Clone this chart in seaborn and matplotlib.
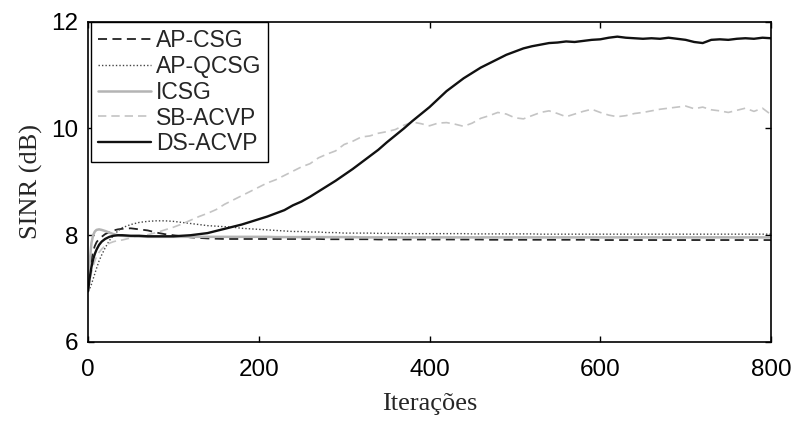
import matplotlib
matplotlib.use("Agg")
import matplotlib.pyplot as plt
import seaborn as sns
import pandas as pd

iters = [0, 2, 4, 6, 8, 10, 13, 16, 20, 25, 30, 35, 40] + list(range(50, 801, 10))

ap_csg = [6.95, 7.30, 7.55, 7.70, 7.80, 7.87, 7.93, 7.97, 8.02, 8.06, 8.09, 8.11, 8.12,
          8.13, 8.11, 8.09, 8.05, 8.02, 8.00, 7.98, 7.96, 7.95, 7.94, 7.935, 7.93, 7.93, 7.93,
          7.93, 7.93, 7.93, 7.93, 7.93, 7.93, 7.93, 7.93, 7.93, 7.925, 7.925, 7.925, 7.925, 7.925,
          7.925, 7.92, 7.92, 7.92, 7.92, 7.92, 7.92, 7.92, 7.92, 7.92, 7.92, 7.92, 7.92, 7.92,
          7.915, 7.915, 7.915, 7.915, 7.915, 7.915, 7.915, 7.915, 7.915, 7.915, 7.915, 7.915, 7.915,
          7.91, 7.91, 7.91, 7.91, 7.91, 7.91, 7.91, 7.91, 7.91, 7.91, 7.91, 7.91, 7.91, 7.91,
          7.91, 7.91, 7.91, 7.91, 7.91, 7.91, 7.91]

ap_qcsg = [6.95, 7.00, 7.08, 7.18, 7.28, 7.38, 7.52, 7.63, 7.76, 7.90, 8.00, 8.08, 8.14,
           8.20, 8.24, 8.26, 8.27, 8.27, 8.26, 8.24, 8.22, 8.20, 8.18, 8.17, 8.16, 8.15, 8.13,
           8.12, 8.11, 8.10, 8.09, 8.08, 8.07, 8.07, 8.06, 8.06, 8.05, 8.05, 8.04, 8.04, 8.04,
           8.04, 8.035, 8.035, 8.035, 8.03, 8.03, 8.03, 8.03, 8.03, 8.03, 8.03, 8.03, 8.025, 8.025,
           8.025, 8.025, 8.025, 8.025, 8.025, 8.025, 8.02, 8.02, 8.02, 8.02, 8.02, 8.02, 8.02,
           8.02, 8.02, 8.02, 8.02, 8.02, 8.02, 8.02, 8.02, 8.02, 8.02, 8.02, 8.02, 8.02, 8.02,
           8.02, 8.02, 8.02, 8.02, 8.02, 8.02, 8.02]

icsg = [6.95, 7.50, 7.85, 8.00, 8.07, 8.10, 8.11, 8.10, 8.08, 8.05, 8.02, 8.00, 7.99,
        7.98, 7.975, 7.97, 7.97, 7.97, 7.97, 7.97, 7.97, 7.97, 7.97, 7.97, 7.97, 7.97, 7.97,
        7.97, 7.97, 7.97, 7.965, 7.965, 7.965, 7.965, 7.965, 7.965, 7.965, 7.965, 7.965, 7.965, 7.96,
        7.96, 7.96, 7.96, 7.96, 7.96, 7.96, 7.96, 7.96, 7.96, 7.96, 7.96, 7.96, 7.96, 7.96,
        7.96, 7.96, 7.96, 7.96, 7.96, 7.96, 7.96, 7.96, 7.96, 7.96, 7.96, 7.96, 7.96,
        7.96, 7.96, 7.96, 7.96, 7.96, 7.96, 7.96, 7.96, 7.96, 7.96, 7.96, 7.96, 7.96, 7.96,
        7.96, 7.96, 7.96, 7.96, 7.96, 7.96, 7.96]

sb_acvp = [6.95, 7.15, 7.30, 7.42, 7.52, 7.60, 7.68, 7.74, 7.80, 7.85, 7.88, 7.90, 7.91,
           7.95, 7.98, 8.01, 8.05, 8.10, 8.15, 8.21, 8.28, 8.35, 8.41, 8.48, 8.58, 8.66, 8.74,
           8.82, 8.90, 8.98, 9.04, 9.12, 9.20, 9.28, 9.34, 9.45, 9.52, 9.58, 9.70, 9.76, 9.84,
           9.86, 9.91, 9.94, 9.98, 10.06, 10.12, 10.09, 10.05, 10.10, 10.11, 10.08, 10.04, 10.10, 10.19,
           10.24, 10.30, 10.27, 10.20, 10.18, 10.24, 10.30, 10.33, 10.28, 10.22, 10.27, 10.32, 10.36,
           10.30, 10.25, 10.22, 10.24, 10.28, 10.30, 10.33, 10.36, 10.38, 10.40, 10.42, 10.37, 10.40, 10.35,
           10.33, 10.30, 10.34, 10.38, 10.32, 10.38, 10.26]

ds_acvp = [6.95, 7.20, 7.40, 7.55, 7.65, 7.73, 7.82, 7.88, 7.93, 7.97, 7.99, 8.00, 8.00,
           7.99, 7.99, 7.98, 7.98, 7.98, 7.98, 7.99, 8.00, 8.02, 8.04, 8.08, 8.12, 8.16, 8.20,
           8.25, 8.30, 8.35, 8.41, 8.47, 8.56, 8.63, 8.72, 8.82, 8.92, 9.02, 9.13, 9.24, 9.36,
           9.48, 9.60, 9.74, 9.87, 10.00, 10.14, 10.27, 10.40, 10.55, 10.70, 10.82, 10.94, 11.04, 11.14,
           11.22, 11.30, 11.38, 11.44, 11.50, 11.54, 11.57, 11.60, 11.61, 11.63, 11.62, 11.64, 11.66,
           11.67, 11.70, 11.72, 11.70, 11.69, 11.68, 11.69, 11.68, 11.70, 11.68, 11.66, 11.62, 11.60, 11.66,
           11.67, 11.66, 11.68, 11.69, 11.68, 11.70, 11.69]

names = ["AP-CSG", "AP-QCSG", "ICSG", "SB-ACVP", "DS-ACVP"]
series = [ap_csg, ap_qcsg, icsg, sb_acvp, ds_acvp]
colors = ["#222222", "#444444", "#b4b4b4", "#c4c4c4", "#111111"]
styles = [(0, (5, 3)), (0, (1, 1.5)), "-", (0, (5, 3)), "-"]
widths = [1.3, 1.0, 1.8, 1.2, 1.7]

sns.set_style("ticks")
plt.rcParams["font.family"] = ["Liberation Sans", "DejaVu Sans"]

fig = plt.figure(figsize=(7.94, 4.21), dpi=100)
ax = fig.add_axes([88 / 794, 1 - 342 / 421, 683 / 794, (342 - 21.7) / 421])

for name, vals, c, ls, lw in zip(names, series, colors, styles, widths):
    df = pd.DataFrame({"iter": iters, "sinr": vals})
    sns.lineplot(data=df, x="iter", y="sinr", ax=ax, color=c, linestyle=ls,
                 linewidth=lw, label=name, estimator=None, sort=False)

ax.set_xlim(0, 800)
ax.set_ylim(6, 12)
ax.set_xticks([0, 200, 400, 600, 800])
ax.set_yticks([6, 8, 10, 12])
ax.tick_params(direction="in", length=4, width=1, top=True, right=True,
               labelsize=17.5, colors="black")
ax.tick_params(axis="x", pad=12)
ax.tick_params(axis="y", pad=7)
for sp in ax.spines.values():
    sp.set_visible(True)
    sp.set_color("black")
    sp.set_linewidth(1.2)

ax.set_xlabel("Iterações", family=["Liberation Serif", "DejaVu Serif"], fontsize=19, labelpad=9)
ax.set_ylabel("SINR (dB)", family=["Liberation Serif", "DejaVu Serif"], fontsize=19, labelpad=6)

leg = ax.legend(loc="upper left", bbox_to_anchor=(91 / 794, 1 - 21.7 / 421),
                bbox_transform=fig.transFigure, borderaxespad=0, fancybox=False,
                frameon=True, edgecolor="black", fontsize=16.5, handlelength=2.3,
                handletextpad=0.22, labelspacing=0.13, borderpad=0.3, framealpha=1)
leg.get_frame().set_linewidth(1.0)

fig.savefig("out.png", dpi=100)
